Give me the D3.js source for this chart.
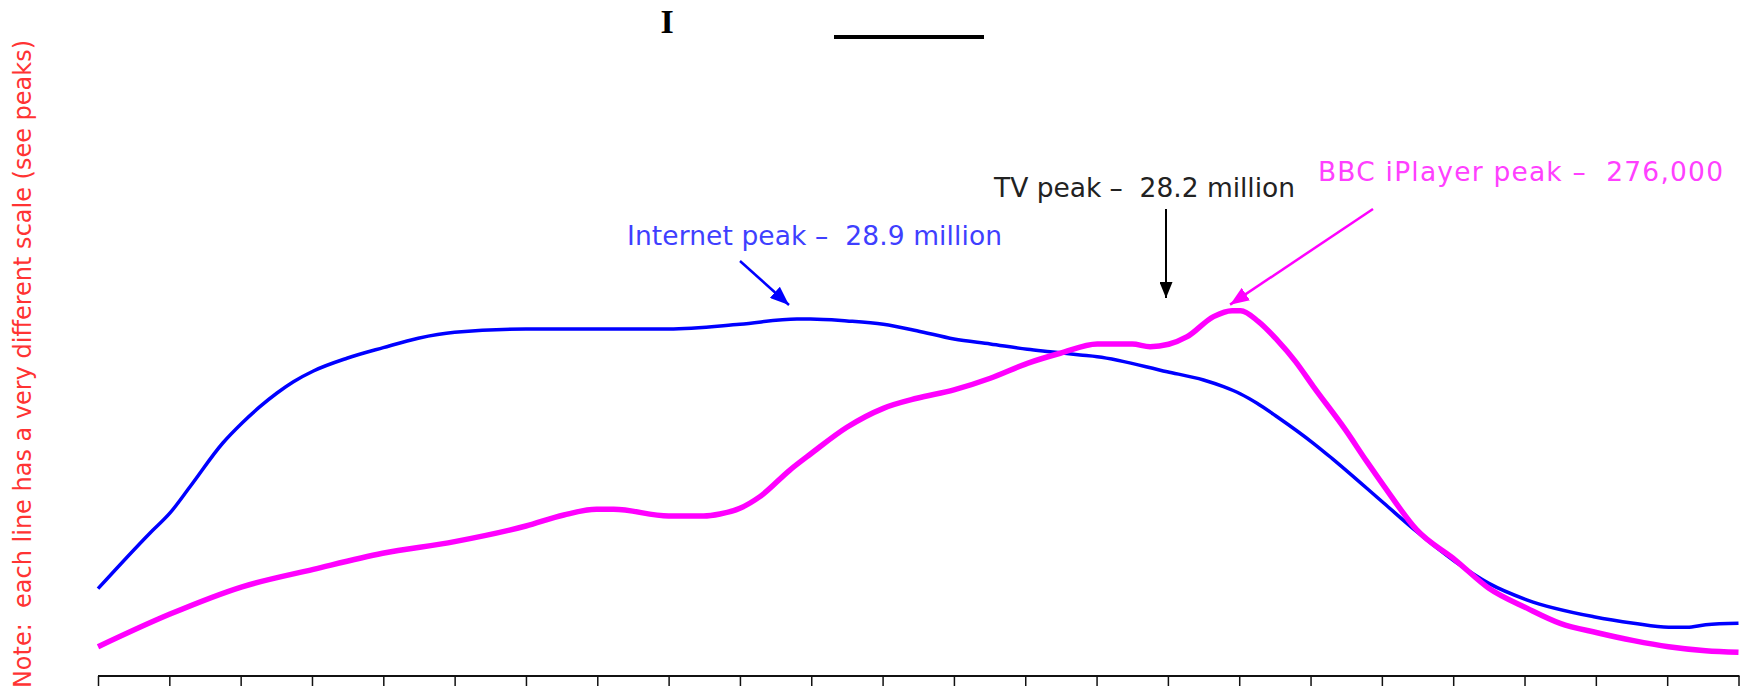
<!DOCTYPE html>
<html>
<head>
<meta charset="utf-8">
<script src="https://cdn.jsdelivr.net/npm/d3@7"></script>
<style>
  html, body { margin: 0; padding: 0; background: #fff; }
  svg { display: block; }
</style>
</head>
<body>
<svg id="chart" width="1746" height="692"></svg>
<script>
// ---- data ----
// x positions are in axis-tick units (24 ticks: 0..23)
const tickSlots = [0,1,2,3,4,5,6,7,8,9,10,11,12,13,14,15,16,17,18,19,20,21,22,23];

// Internet users (millions)
const internetSlots = [0.00,0.73,1.01,1.29,1.75,2.02,2.27,2.51,2.74,3.02,3.49,4.00,4.49,5.00,6.00,6.90,8.00,9.00,9.80,9.99,10.50,11.01,11.48,12.00,12.51,13.03,13.35,13.77,14.01,14.99,15.50,15.78,16.02,16.25,16.53,17.04,17.30,18.03,18.49,19.03,19.50,20.04,20.97,21.53,22.02,22.28,22.54,23.00];
const internetValues = [7.07,11.58,13.20,15.32,18.86,20.48,21.80,22.91,23.82,24.69,25.72,26.58,27.34,27.82,28.09,28.09,28.09,28.47,28.90,28.90,28.74,28.47,27.95,27.28,26.88,26.45,26.25,25.99,25.85,24.63,23.96,23.42,22.83,22.08,20.99,18.84,17.62,13.98,11.68,9.25,7.50,6.15,4.80,4.27,3.94,3.94,4.15,4.27];

// BBC iPlayer users (thousands)
const iplayerSlots = [0.00,1.01,2.02,3.02,3.99,5.00,6.00,6.53,6.99,7.23,8.00,8.49,8.72,9.00,9.28,9.70,9.99,10.50,11.01,11.48,12.00,12.51,13.03,13.49,14.01,14.50,14.75,15.01,15.27,15.64,15.90,16.02,16.27,16.53,16.79,17.04,17.49,17.79,18.03,18.49,19.03,19.50,20.04,20.50,21.02,21.53,22.02,22.54,23.00];
const iplayerValues = [22.1,46.8,67.4,80.6,92.7,101.5,113.3,121.6,125.9,125.9,120.9,120.9,122.4,126.7,135.5,155.6,167.7,187.9,202.2,209.8,216.1,224.9,236.2,243.8,250.8,250.8,248.8,250.6,256.3,271.5,276.0,276.0,267.7,253.9,237.5,218.6,185.9,161.9,143.5,110.3,87.6,66.3,51.1,39.8,32.7,26.7,22.1,19.1,17.9];

// annotation texts
const noteText = "Note:  each line has a very different scale (see peaks)";
const internetLabel = "Internet peak \u2013  28.9 million";
const tvLabel = "TV peak \u2013  28.2 million";
const iplayerLabel = "BBC iPlayer peak \u2013  276,000";

// ---- drawing ----
const svg = d3.select("#chart");
const FONT = "'DejaVu Sans', Verdana, sans-serif";

const x = d3.scaleLinear().domain([0, 23]).range([98, 1738.5]);
const yInternet = d3.scaleLinear().domain([0, 29.95]).range([676, 306]);
const yIplayer = d3.scaleLinear().domain([0, 279.5]).range([676, 306]);

// markers
const defs = svg.append("defs");
function marker(id, color, len, wid) {
  defs.append("marker")
    .attr("id", id)
    .attr("viewBox", `0 0 ${len} ${wid}`)
    .attr("refX", len).attr("refY", wid / 2)
    .attr("markerWidth", len).attr("markerHeight", wid)
    .attr("markerUnits", "userSpaceOnUse")
    .attr("orient", "auto")
    .append("path")
    .attr("d", `M0,0 L${len},${wid/2} L0,${wid} Z`)
    .attr("fill", color);
}
marker("arrBlue", "#0000ff", 19, 15);
marker("arrBlack", "#000000", 16, 13);
marker("arrMag", "#ff00ff", 19, 15);

// axis
const axis = d3.axisBottom(x).tickValues(tickSlots).tickSize(10).tickFormat("");
const gAxis = svg.append("g").attr("transform", "translate(0,676)").call(axis);
gAxis.select(".domain").attr("stroke", "#111").attr("stroke-width", 2).attr("d", `M${x(0)},0H${x(23)+1}`);
gAxis.selectAll(".tick line").attr("stroke", "#111").attr("stroke-width", 1.5);

// lines
const internetData = internetSlots.map((s, i) => ({ s, v: internetValues[i] }));
const iplayerData = iplayerSlots.map((s, i) => ({ s, v: iplayerValues[i] }));

svg.append("path")
  .datum(internetData)
  .attr("fill", "none")
  .attr("stroke", "#0000ff")
  .attr("stroke-width", 3.5)
  .attr("stroke-linejoin", "round")
  .attr("d", d3.line().curve(d3.curveMonotoneX).x(d => x(d.s)).y(d => yInternet(d.v)));

svg.append("path")
  .datum(iplayerData)
  .attr("fill", "none")
  .attr("stroke", "#ff00ff")
  .attr("stroke-width", 5.5)
  .attr("stroke-linejoin", "round")
  .attr("d", d3.line().curve(d3.curveMonotoneX).x(d => x(d.s)).y(d => yIplayer(d.v)));

// title fragments at top
svg.append("text")
  .attr("x", 667).attr("y", 33)
  .attr("text-anchor", "middle")
  .attr("font-family", "'Liberation Serif', serif")
  .attr("font-weight", "bold")
  .attr("font-size", 34)
  .attr("fill", "#000")
  .text("I");
svg.append("line")
  .attr("x1", 834).attr("x2", 984).attr("y1", 37).attr("y2", 37)
  .attr("stroke", "#000").attr("stroke-width", 4);

// rotated note
svg.append("text")
  .attr("transform", "translate(31,364) rotate(-90)")
  .attr("text-anchor", "middle")
  .attr("font-family", FONT)
  .attr("font-size", 24)
  .attr("fill", "#ff3333")
  .style("white-space", "pre")
  .text(noteText);

// annotations
function label(txt, xx, yy, color, len) {
  svg.append("text")
    .attr("x", xx).attr("y", yy)
    .attr("font-family", FONT)
    .attr("font-size", 26.5)
    .attr("fill", color)
    .attr("textLength", len)
    .attr("lengthAdjust", "spacing")
    .style("white-space", "pre")
    .text(txt);
}
label(internetLabel, 627, 245, "#3f3fff", 375);
label(tvLabel, 994, 197, "#222222", 301);
label(iplayerLabel, 1318, 181, "#ff40ff", 405);

// arrows pointing at peaks
svg.append("line")
  .attr("x1", 740).attr("y1", 261).attr("x2", x(9.8) - 8).attr("y2", yInternet(28.9) - 14)
  .attr("stroke", "#0000ff").attr("stroke-width", 2.5)
  .attr("marker-end", "url(#arrBlue)");
svg.append("line")
  .attr("x1", 1166).attr("y1", 209).attr("x2", 1166).attr("y2", 298)
  .attr("stroke", "#000").attr("stroke-width", 2)
  .attr("marker-end", "url(#arrBlack)");
svg.append("line")
  .attr("x1", 1373).attr("y1", 209).attr("x2", x(15.9) - 2).attr("y2", yIplayer(276) - 6)
  .attr("stroke", "#ff00ff").attr("stroke-width", 2.5)
  .attr("marker-end", "url(#arrMag)");
</script>
</body>
</html>
